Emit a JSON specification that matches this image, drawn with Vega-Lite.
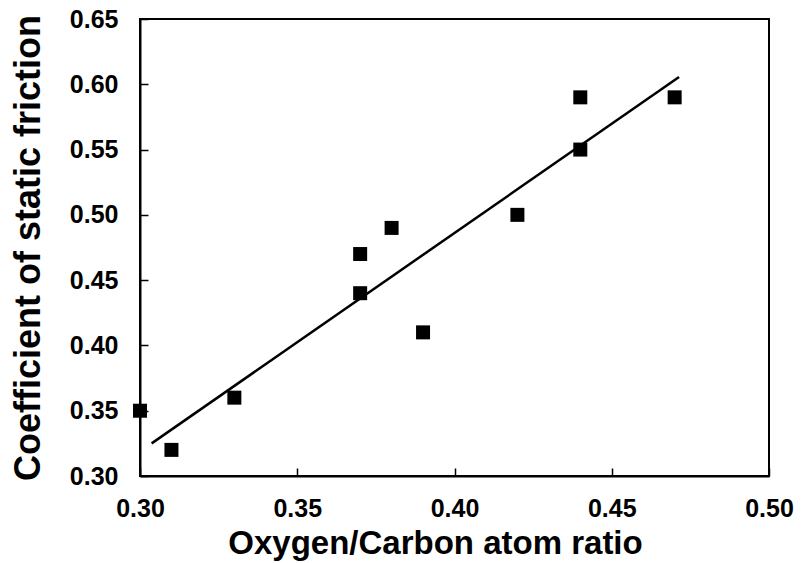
{
  "$schema": "https://vega.github.io/schema/vega-lite/v6.json",
  "autosize": {"type": "none"},
  "width": 629,
  "height": 457,
  "padding": {"left": 140, "top": 19, "right": 32, "bottom": 87},
  "background": "white",
  "config": {
    "view": {"stroke": "black", "strokeWidth": 2},
    "font": "Liberation Sans",
    "axis": {
      "domainColor": "black",
      "domainWidth": 2,
      "tickColor": "black",
      "tickWidth": 1.5,
      "tickSize": -8,
      "grid": false,
      "labelFlush": false,
      "labelOverlap": false,
      "labelFont": "Liberation Sans",
      "labelFontSize": 25,
      "labelFontWeight": "bold",
      "labelColor": "black",
      "titleFont": "Liberation Sans",
      "titleFontWeight": "bold",
      "titleColor": "black"
    }
  },
  "datasets": {
    "points": [
      {"ratio": 0.30, "friction": 0.35},
      {"ratio": 0.31, "friction": 0.32},
      {"ratio": 0.33, "friction": 0.36},
      {"ratio": 0.37, "friction": 0.47},
      {"ratio": 0.37, "friction": 0.44},
      {"ratio": 0.38, "friction": 0.49},
      {"ratio": 0.39, "friction": 0.41},
      {"ratio": 0.42, "friction": 0.50},
      {"ratio": 0.44, "friction": 0.59},
      {"ratio": 0.44, "friction": 0.55},
      {"ratio": 0.47, "friction": 0.59}
    ],
    "fit": [
      {"ratio": 0.3037, "friction": 0.325},
      {"ratio": 0.4714, "friction": 0.6056}
    ]
  },
  "layer": [
    {
      "data": {"name": "fit"},
      "mark": {"type": "line", "color": "black", "strokeWidth": 2.5},
      "encoding": {
        "x": {
          "field": "ratio", "type": "quantitative",
          "scale": {"domain": [0.30, 0.50], "nice": false, "zero": false},
          "axis": {"values": [0.30, 0.35, 0.40, 0.45, 0.50], "format": ".2f", "title": "Oxygen/Carbon atom ratio", "titleFontSize": 33, "titleX": 295, "labelPadding": 28, "titlePadding": 6}
        },
        "y": {
          "field": "friction", "type": "quantitative",
          "scale": {"domain": [0.30, 0.65], "nice": false, "zero": false},
          "axis": {"values": [0.30, 0.35, 0.40, 0.45, 0.50, 0.55, 0.60, 0.65], "format": ".2f", "title": "Coefficient of static friction", "titleFontSize": 36, "labelPadding": 30, "titlePadding": 22}
        }
      }
    },
    {
      "data": {"name": "points"},
      "mark": {"type": "point", "shape": "square", "filled": true, "color": "black", "size": 196, "opacity": 1},
      "encoding": {
        "x": {"field": "ratio", "type": "quantitative"},
        "y": {"field": "friction", "type": "quantitative"}
      }
    }
  ]
}
